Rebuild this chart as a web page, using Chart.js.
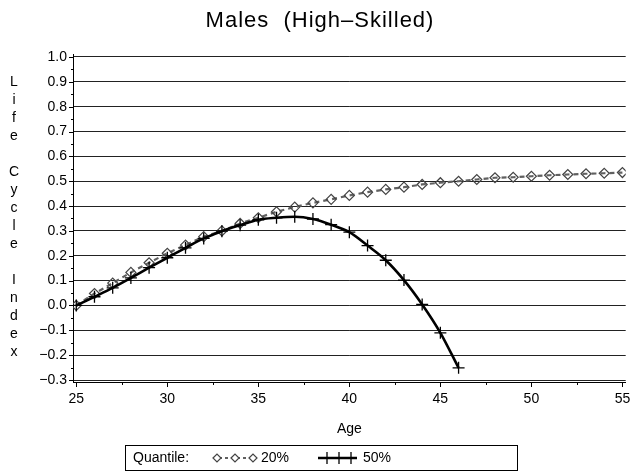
<!DOCTYPE html>
<html>
<head>
<meta charset="utf-8">
<script src="https://cdn.jsdelivr.net/npm/chart.js@4"></script>
<style>
  html, body { margin: 0; padding: 0; background: #fff; }
  canvas { display: block; }
</style>
</head>
<body>
<canvas id="c" width="633" height="472"></canvas>
<script>
// Life cycle index by age, two quantiles
const ages20 = [25, 26, 27, 28, 29, 30, 31, 32, 33, 34, 35, 36, 37, 38, 39, 40,
                41, 42, 43, 44, 45, 46, 47, 48, 49, 50, 51, 52, 53, 54, 55];
const q20 = [0.000, 0.048, 0.090, 0.133, 0.172, 0.210, 0.243, 0.277, 0.300, 0.330,
             0.353, 0.377, 0.396, 0.413, 0.427, 0.443, 0.456, 0.467, 0.476, 0.487,
             0.494, 0.500, 0.507, 0.514, 0.516, 0.520, 0.524, 0.527, 0.530, 0.532, 0.535];
const ages50 = [25, 26, 27, 28, 29, 30, 31, 32, 33, 34, 35, 36, 37, 38, 39, 40,
                41, 42, 43, 44, 45, 46];
const q50 = [0.000, 0.035, 0.071, 0.111, 0.152, 0.192, 0.232, 0.270, 0.299, 0.323,
             0.345, 0.353, 0.357, 0.348, 0.325, 0.295, 0.241, 0.182, 0.102, 0.004,
             -0.110, -0.251];

const xTicks = [25, 30, 35, 40, 45, 50, 55];
const yTicks = [-0.3, -0.2, -0.1, 0.0, 0.1, 0.2, 0.3, 0.4, 0.5, 0.6, 0.7, 0.8, 0.9, 1.0];

const titleText = 'Males  (High\u2013Skilled)';
const xTitle = 'Age';
const yTitleLetters = ['L', 'i', 'f', 'e', '', 'C', 'y', 'c', 'l', 'e', '', 'I', 'n', 'd', 'e', 'x'];
const legendTitle = 'Quantile:';
const seriesNames = ['20%', '50%'];

const FONT = "'Liberation Sans', Arial, Helvetica, sans-serif";

const style20 = {
  pointStyle: 'rectRot', radius: 5, borderWidth: 1.2,
  borderColor: '#444', backgroundColor: 'rgba(255,255,255,0)', lineColor: '#606060'
};
const style50 = {
  pointStyle: 'cross', radius: 6, borderWidth: 1.3,
  borderColor: '#000', backgroundColor: '#000'
};

// Tick marks (major + minor), titles and the boxed legend
const decorations = {
  id: 'decorations',
  afterDraw(chart) {
    const ctx = chart.ctx;
    const xs = chart.scales.x, ys = chart.scales.y;
    const area = chart.chartArea;
    ctx.save();
    ctx.strokeStyle = '#000';
    ctx.lineWidth = 1;

    // x-axis tick marks every 2.5 years
    for (let v = 25; v <= 55.001; v += 2.5) {
      const px = Math.round(xs.getPixelForValue(v)) + 0.5;
      const major = Math.abs(v / 5 - Math.round(v / 5)) < 1e-6;
      ctx.beginPath();
      ctx.moveTo(px, area.bottom);
      ctx.lineTo(px, area.bottom + (major ? 5 : 3));
      ctx.stroke();
    }
    // y-axis tick marks every 0.05
    for (let i = -6; i <= 20; i++) {
      const v = i * 0.05;
      const py = Math.round(ys.getPixelForValue(v)) + 0.5;
      const major = i % 2 === 0;
      ctx.beginPath();
      ctx.moveTo(area.left, py);
      ctx.lineTo(area.left - (major ? 4 : 2), py);
      ctx.stroke();
    }

    ctx.fillStyle = '#000';
    ctx.textBaseline = 'middle';

    // Main title
    ctx.font = '22px ' + FONT;
    ctx.textAlign = 'center';
    ctx.letterSpacing = '1px';
    ctx.fillText(titleText, 320, 21);
    ctx.letterSpacing = '0px';

    // x-axis title
    ctx.font = '14px ' + FONT;
    ctx.fillText(xTitle, (area.left + area.right) / 2, 429);

    // y-axis title, one letter per line
    yTitleLetters.forEach((ch, i) => {
      if (ch) ctx.fillText(ch, 14, 82 + i * 18);
    });

    // Legend box
    ctx.strokeRect(125.5, 445.5, 392, 25);
    const ly = 458;
    ctx.textAlign = 'left';
    ctx.fillText(legendTitle, 133, ly);

    // 20% sample
    ctx.save();
    ctx.strokeStyle = style20.lineColor;
    ctx.lineWidth = 2;
    ctx.setLineDash([3, 3]);
    ctx.beginPath();
    ctx.moveTo(213, ly); ctx.lineTo(257, ly);
    ctx.stroke();
    ctx.restore();
    ctx.save();
    ctx.fillStyle = '#fff';
    ctx.strokeStyle = style20.borderColor;
    ctx.lineWidth = 1.2;
    [217, 235, 253].forEach(x => {
      Chart.helpers.drawPoint(ctx, {
        pointStyle: style20.pointStyle, radius: 4, borderWidth: 1.2, rotation: 0
      }, x, ly);
    });
    ctx.restore();
    ctx.fillStyle = '#000';
    ctx.fillText(seriesNames[0], 261, ly);

    // 50% sample
    ctx.strokeStyle = '#000';
    ctx.lineWidth = 2.5;
    ctx.beginPath();
    ctx.moveTo(318, ly); ctx.lineTo(357, ly);
    ctx.stroke();
    ctx.lineWidth = 1.3;
    [327, 339, 351].forEach(x => {
      Chart.helpers.drawPoint(ctx, {
        pointStyle: style50.pointStyle, radius: 6, borderWidth: 1.3, rotation: 0
      }, x, ly);
    });
    ctx.fillText(seriesNames[1], 363, ly);

    ctx.restore();
  }
};

new Chart(document.getElementById('c'), {
  type: 'line',
  data: {
    datasets: [
      {
        label: seriesNames[1],
        data: ages50.map((a, i) => ({ x: a, y: q50[i] })),
        borderColor: '#000',
        borderWidth: 2.6,
        tension: 0.4,
        cubicInterpolationMode: 'monotone',
        fill: false,
        pointStyle: style50.pointStyle,
        pointRadius: style50.radius,
        pointBorderWidth: style50.borderWidth,
        pointBorderColor: style50.borderColor,
        pointBackgroundColor: style50.backgroundColor,
        order: 0
      },
      {
        label: seriesNames[0],
        data: ages20.map((a, i) => ({ x: a, y: q20[i] })),
        borderColor: style20.lineColor,
        borderWidth: 2.2,
        borderDash: [5, 4],
        tension: 0,
        fill: false,
        pointStyle: style20.pointStyle,
        pointRadius: style20.radius,
        pointBorderWidth: style20.borderWidth,
        pointBorderColor: style20.borderColor,
        pointBackgroundColor: style20.backgroundColor,
        order: 1
      }
    ]
  },
  options: {
    responsive: false,
    animation: false,
    events: [],
    layout: { padding: { left: 0, top: 54, right: 7, bottom: 0 } },
    plugins: {
      legend: { display: false },
      title: { display: false },
      tooltip: { enabled: false }
    },
    scales: {
      x: {
        type: 'linear',
        min: 24.82,
        max: 55.18,
        afterBuildTicks: s => { s.ticks = xTicks.map(v => ({ value: v })); },
        afterFit: s => { s.height = 90; s.paddingLeft = 0; s.paddingRight = 0; },
        grid: { display: false, drawTicks: false },
        border: { display: true, color: '#000', width: 1 },
        ticks: {
          padding: 9,
          color: '#000',
          font: { family: FONT, size: 14 },
          maxRotation: 0,
          callback: v => String(v)
        }
      },
      y: {
        type: 'linear',
        min: -0.308,
        max: 1.012,
        afterBuildTicks: s => { s.ticks = yTicks.map(v => ({ value: v })); },
        afterFit: s => { s.width = 73; s.paddingTop = 0; s.paddingBottom = 0; },
        grid: { display: true, color: '#222', lineWidth: 1, drawTicks: false },
        border: { display: true, color: '#000', width: 1 },
        ticks: {
          padding: 6,
          color: '#000',
          font: { family: FONT, size: 14 },
          callback: v => (v < 0 ? '\u2212' : '') + Math.abs(v).toFixed(1)
        }
      }
    }
  },
  plugins: [decorations]
});
</script>
</body>
</html>
